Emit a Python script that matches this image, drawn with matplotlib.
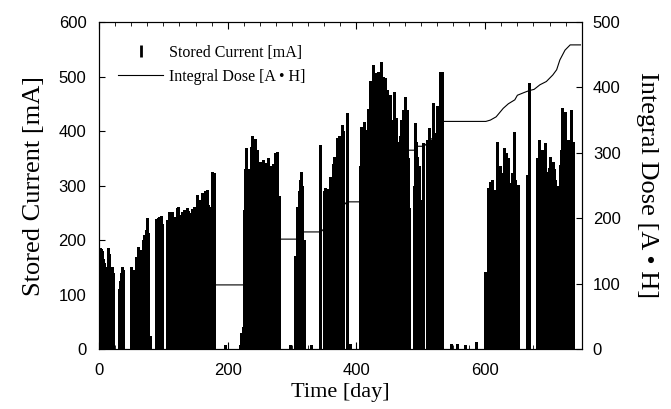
import matplotlib
matplotlib.use('Agg')
import matplotlib.pyplot as plt
from matplotlib.lines import Line2D
from matplotlib.ticker import MultipleLocator

# stored current readings: day of operation, current [mA]
days = [
    2, 3, 4, 6, 7, 8, 10, 11, 13, 14, 15, 16, 18, 19, 20, 21, 22,
    31, 32, 33, 34, 35, 36, 37, 38,
    50, 52, 53, 55, 57, 58, 60, 62, 63, 65, 67, 68, 70, 72, 73, 75, 76, 80,
    89, 91, 93, 95, 97, 98,
    106, 108, 109, 111, 113, 114, 116, 118, 120, 121, 123, 125, 126, 128, 129, 131, 132,
    134, 136, 138, 139, 141, 143, 144, 146, 147, 149, 150, 152, 154, 155, 157, 159, 160,
    162, 163, 165, 167, 168, 170, 172, 173, 176, 178,
    196, 219,
    221, 223, 225, 227, 229, 231, 233, 236, 238, 240, 242, 244, 246, 248, 250, 252, 255,
    257, 259, 261, 263, 265, 267, 269, 271, 273, 275, 277, 279,
    296,
    304, 306, 308, 310, 312, 314, 316, 318,
    330, 344,
    349, 351, 353, 355, 357, 359, 361, 363, 365, 367, 369, 371, 373, 375, 377, 379,
    385, 390,
    405, 407, 410, 412, 414, 416, 418, 421, 423, 426, 428, 429, 431, 433, 434, 436, 438,
    440, 441, 443, 445, 447, 450, 452, 454, 455, 457, 458, 460, 461, 463, 465, 467, 469,
    471, 472, 474, 475, 477, 478, 480, 481,
    490, 491, 493, 494, 496, 497, 499, 504,
    509, 511, 513, 515, 517, 519, 521, 523, 525, 527, 530, 531, 533,
    547, 556, 568, 586,
    599, 601, 603, 605, 607, 608, 610, 611, 613, 615, 617, 619, 621, 623, 625, 627, 629,
    631, 632, 634, 636, 638, 640, 641, 643, 645, 647, 648, 650, 651,
    665, 667, 668,
    680, 682, 684, 686, 688, 690, 692, 693, 695, 697, 699, 701, 703, 705, 707, 709, 711,
    716, 718, 720, 722, 724, 726, 728, 730, 732, 734, 736,
]
current = [
    185, 183, 180, 165, 160, 158, 150, 120, 140, 185, 175, 150, 145, 120, 148, 150, 140,
    110, 118, 125, 140, 148, 150, 145, 140,
    151, 130, 145, 137, 120, 169, 187, 150, 163, 182, 170, 200, 209, 190, 218, 240, 213, 23,
    238, 240, 242, 236, 244, 230,
    236, 220, 252, 246, 230, 252, 240, 243, 235, 258, 261, 240, 246, 238, 252, 240, 255,
    245, 258, 240, 254, 249, 245, 257, 250, 261, 245, 255, 283, 260, 267, 273, 265, 286,
    270, 261, 289, 270, 292, 264, 250, 261, 325, 323,
    7, 8,
    30, 40, 255, 330, 369, 330, 300, 371, 390, 360, 385, 330, 365, 340, 344, 310, 347,
    330, 341, 300, 350, 320, 335, 300, 340, 359, 300, 362, 280,
    8,
    170, 150, 260, 290, 310, 325, 300, 200,
    8, 374,
    290, 296, 285, 294, 280, 316, 300, 340, 353, 330, 387, 360, 390, 356, 411, 400,
    433, 10,
    335, 408, 380, 417, 360, 402, 440, 491, 454, 521, 480, 506, 488, 470, 509, 450, 527,
    490, 500, 460, 497, 475, 433, 466, 380, 298, 420, 472, 400, 424, 380, 347, 390, 420,
    400, 438, 410, 463, 420, 438, 350, 259,
    300, 415, 380, 353, 300, 335, 273, 378,
    383, 360, 405, 350, 383, 451, 396, 370, 445, 390, 509, 500, 509,
    10, 10, 8, 12,
    142, 130, 123, 295, 280, 307, 250, 310, 270, 292, 200, 380, 300, 335, 323, 280, 369,
    320, 360, 300, 350, 305, 280, 323, 320, 399, 310, 301, 290, 301,
    319, 300, 488,
    350, 300, 383, 340, 365, 363, 320, 378, 325, 300, 332, 353, 320, 344, 330, 310, 300,
    338, 365, 442, 400, 435, 360, 383, 356, 350, 439, 380,
]

# integral dose curve: day, dose [A*H]
dose_days = [106, 175, 224, 228, 236, 280, 308, 312, 345, 385, 405,
             455, 467, 469, 491, 495, 505, 515, 527, 534, 601, 608, 617, 628, 636,
             646, 650, 660, 668, 676, 685, 695, 705, 711, 716, 724, 732, 748]
dose = [60, 98, 98, 103, 103, 168, 168, 179, 179, 225, 225,
        283, 283, 304, 304, 310, 310, 320, 329, 348, 348, 350, 355, 368, 375,
        381, 388, 392, 395, 397, 404, 409, 419, 427, 442, 457, 465, 465]

serif = ['Liberation Serif', 'DejaVu Serif']
sans = ['Liberation Sans', 'DejaVu Sans']

fig = plt.figure(figsize=(6.71, 4.09), dpi=100)
ax = fig.add_axes([0.1475, 0.1467, 0.7195, 0.7995])
ax.vlines(days, 0, current, colors='black', linewidth=0.75, antialiased=False)
ax.set_xlim(0, 750)
ax.set_ylim(0, 600)

ax2 = ax.twinx()
ax2.plot(dose_days, dose, color='black', linewidth=0.8)
ax2.set_ylim(0, 500)

ax.set_xlabel('Time [day]', family=serif, fontsize=16, labelpad=4)
ax.set_ylabel('Stored Current [mA]', family=serif, fontsize=19, labelpad=10)
ax2.set_ylabel('Integral Dose [A \u2022 H]', family=serif, fontsize=19,
               rotation=270, labelpad=27)

ax.xaxis.set_major_locator(MultipleLocator(200))
ax.xaxis.set_minor_locator(MultipleLocator(25))
ax.yaxis.set_major_locator(MultipleLocator(100))
ax2.yaxis.set_major_locator(MultipleLocator(100))
ax.tick_params(axis='x', which='both', direction='in', top=True, bottom=True, pad=10)
ax.tick_params(axis='x', which='major', length=5)
ax.tick_params(axis='x', which='minor', length=3)
ax.tick_params(axis='y', direction='in', length=4, pad=9)
ax2.tick_params(axis='y', direction='in', length=4, pad=8)
for a in (ax, ax2):
    for lab in a.get_xticklabels() + a.get_yticklabels():
        lab.set_family(sans)
        lab.set_fontsize(12)
    for s in a.spines.values():
        s.set_linewidth(0.8)

handles = [Line2D([], [], color='black', marker='|', markersize=9,
                  markeredgewidth=2, linestyle='none'),
           Line2D([], [], color='black', linewidth=0.8)]
ax.legend(handles, ['Stored Current [mA]', 'Integral Dose [A \u2022 H]'],
          loc='upper left', bbox_to_anchor=(0.01, 0.975), frameon=False,
          handlelength=2.8, handletextpad=0.4, labelspacing=0.5,
          prop={'family': serif, 'size': 11.5})

fig.savefig('out.png', dpi=100)
